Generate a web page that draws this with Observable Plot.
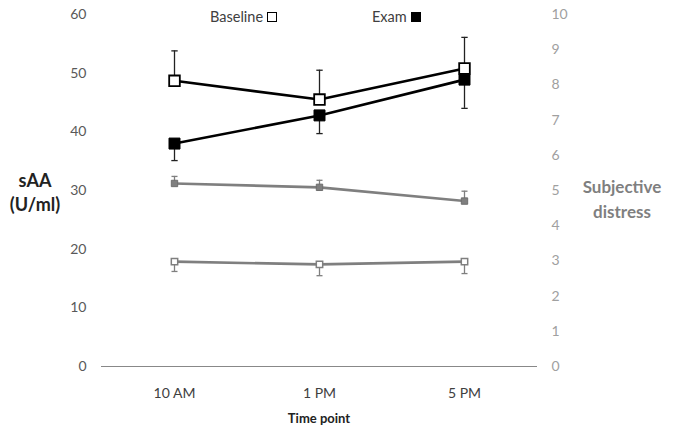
<!DOCTYPE html>
<html><head><meta charset="utf-8">
<script src="https://cdn.jsdelivr.net/npm/d3@7"></script>
<script src="https://cdn.jsdelivr.net/npm/@observablehq/plot@0.6"></script>
<style>
body{margin:0;background:#fff}
#wrap{position:relative;width:675px;height:436px;font-family:Lato,"Open Sans",sans-serif}
.ov{position:absolute;white-space:nowrap}
</style>
</head><body>
<div id="wrap"></div>
<script>
const timepoints = ["10 AM", "1 PM", "5 PM"];
// sAA (U/ml), left axis
const saaBaseline = [48.7, 45.5, 50.8];
const saaBaselineErr = [5.1, 5.0, 5.3];
const saaExam = [38.0, 42.8, 48.9];
const saaExamErr = [2.9, 3.1, 4.9];
// Subjective distress, right axis
const distressExam = [5.2, 5.09, 4.7];
const distressExamErr = [0.2, 0.2, 0.28];
const distressBaseline = [2.98, 2.9, 2.98];
const distressBaselineErr = [0.28, 0.32, 0.34];
const leftTicks = [0, 10, 20, 30, 40, 50, 60];
const rightTicks = [0, 1, 2, 3, 4, 5, 6, 7, 8, 9, 10];
const ratio = 60 / 10;

const rows = (vals, errs, dir, k) => timepoints.map((t, i) => ({
  t, v: vals[i] * k, e1: vals[i] * k, e2: (vals[i] + dir * errs[i]) * k
}));
const sB = rows(saaBaseline, saaBaselineErr, +1, 1);
const sE = rows(saaExam, saaExamErr, -1, 1);
const dE = rows(distressExam, distressExamErr, +1, ratio);
const dB = rows(distressBaseline, distressBaselineErr, -1, ratio);

const cap = {draw(ctx, size) { const w = Math.sqrt(size); ctx.moveTo(-w / 2, 0); ctx.lineTo(w / 2, 0); }};

const black = "#000", gray = "#7f7f7f";
const chart = Plot.plot({
  width: 675, height: 436,
  marginLeft: 101, marginRight: 138, marginTop: 14, marginBottom: 70,
  style: {fontFamily: "Lato, 'Open Sans', sans-serif", fontSize: "14px", background: "#fff"},
  x: {type: "point", domain: timepoints, padding: 0.5, axis: null},
  y: {domain: [0, 60], axis: null},
  marks: [
    Plot.axisY(leftTicks, {anchor: "left", tickSize: 0, tickPadding: 15, color: "#595959", label: null, fontSize: 14}),
    Plot.axisY(rightTicks.map(d => d * ratio), {anchor: "right", tickSize: 0, tickPadding: 14, tickFormat: d => Math.round(d / ratio), color: "#a0a0a0", label: null, fontSize: 14}),
    Plot.axisX(timepoints, {tickSize: 0, tickPadding: 22, color: "#404040", label: null, fontSize: 14}),
    Plot.ruleY([0], {stroke: "#888", strokeWidth: 1}),
    // error bars
    Plot.ruleX(dE, {x: "t", y1: "e1", y2: "e2", stroke: gray, strokeWidth: 1.3}),
    Plot.dot(dE, {x: "t", y: "e2", symbol: cap, r: 3.4, stroke: gray, strokeWidth: 1.3}),
    Plot.ruleX(dB, {x: "t", y1: "e1", y2: "e2", stroke: gray, strokeWidth: 1.3}),
    Plot.dot(dB, {x: "t", y: "e2", symbol: cap, r: 3.4, stroke: gray, strokeWidth: 1.3}),
    Plot.ruleX(sB, {x: "t", y1: "e1", y2: "e2", stroke: "#222", strokeWidth: 1.3}),
    Plot.dot(sB, {x: "t", y: "e2", symbol: cap, r: 3.6, stroke: "#222", strokeWidth: 1.3}),
    Plot.ruleX(sE, {x: "t", y1: "e1", y2: "e2", stroke: "#222", strokeWidth: 1.3}),
    Plot.dot(sE, {x: "t", y: "e2", symbol: cap, r: 3.6, stroke: "#222", strokeWidth: 1.3}),
    // gray lines (distress)
    Plot.line(dE, {x: "t", y: "v", stroke: gray, strokeWidth: 2.6}),
    Plot.line(dB, {x: "t", y: "v", stroke: gray, strokeWidth: 2.6}),
    Plot.dot(dE, {x: "t", y: "v", symbol: "square", r: 3.6, fill: gray, stroke: "#6e6e6e", strokeWidth: 1}),
    Plot.dot(dB, {x: "t", y: "v", symbol: "square", r: 3.6, fill: "#fff", stroke: gray, strokeWidth: 1.5}),
    // black lines (sAA)
    Plot.line(sB, {x: "t", y: "v", stroke: black, strokeWidth: 2.6}),
    Plot.line(sE, {x: "t", y: "v", stroke: black, strokeWidth: 2.6}),
    Plot.dot(sE, {x: "t", y: "v", symbol: "square", r: 6.2, fill: black, stroke: black, strokeWidth: 1}),
    Plot.dot(sB, {x: "t", y: "v", symbol: "square", r: 6.0, fill: "#fff", stroke: black, strokeWidth: 1.8})
  ]
});
const wrap = document.getElementById("wrap");
wrap.appendChild(chart);
const ov = (html, css) => { const d = document.createElement("div"); d.className = "ov"; d.innerHTML = html; Object.assign(d.style, css); wrap.appendChild(d); };
ov("sAA<br>(U/ml)", {left: "0px", width: "70px", textAlign: "center", top: "168px", lineHeight: "24px", fontWeight: "bold", fontSize: "18px", color: "#222"});
ov("Subjective<br>distress", {left: "577px", width: "90px", textAlign: "center", top: "174px", lineHeight: "25px", fontWeight: "bold", fontSize: "17px", color: "#7f7f7f"});
ov("Time point", {left: "269px", width: "100px", textAlign: "center", top: "410px", lineHeight: "16px", fontWeight: "bold", fontSize: "13px", color: "#222"});
const sq = (fill) => `<span style="display:inline-block;width:8px;height:8px;border:1.5px solid #000;background:${fill};vertical-align:0px;margin-left:4px"></span>`;
ov("Baseline" + sq("#fff"), {left: "210px", top: "8px", lineHeight: "18px", fontSize: "14.5px", color: "#404040"});
ov("Exam" + sq("#000"), {left: "372px", top: "8px", lineHeight: "18px", fontSize: "14.5px", color: "#404040"});
</script>
</body></html>
